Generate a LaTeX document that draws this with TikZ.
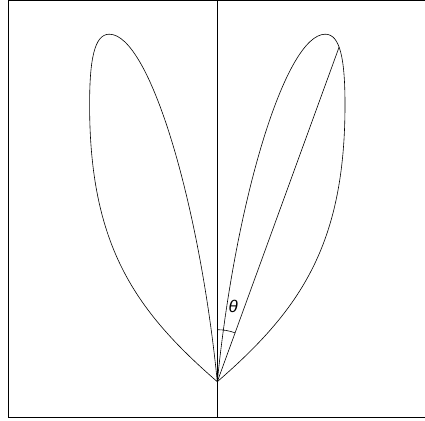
\documentclass[tikz,border=0pt]{standalone}
\usepackage{fontspec}
\setmainfont{Liberation Sans}
\newcommand\lobepath{(0,0) .. controls (83,72) and (127.7,137) .. (127.7,277)
  .. controls (127.7,322) and (123,347.5) .. (108,347.5)
  .. controls (68,347.5) and (18,180) .. (0,0)}
\begin{document}
\begin{tikzpicture}[x=1pt,y=1pt,line width=0.6pt,
  frame/.style={line width=0.9pt}]
\useasboundingbox (-217.3,-38.3) rectangle (207.7,381.7);
\coordinate (O) at (0,0);
\coordinate (top) at (0,381.2);
\coordinate (bot) at (0,-36);
\draw[frame] (-209,-36) rectangle (215,381.2);
\draw (top) -- (bot);
% the two lobes, one mirrored
\draw \lobepath;
\draw[xscale=-1] \lobepath;
\coordinate (tip) at (70:356);
\draw (O) -- (tip);
\draw (90:52) arc[start angle=90,end angle=70,radius=52];
\node[font=\itshape\fontsize{17}{20}\selectfont] (theta) at (16,75) {θ};
\end{tikzpicture}
\end{document}
